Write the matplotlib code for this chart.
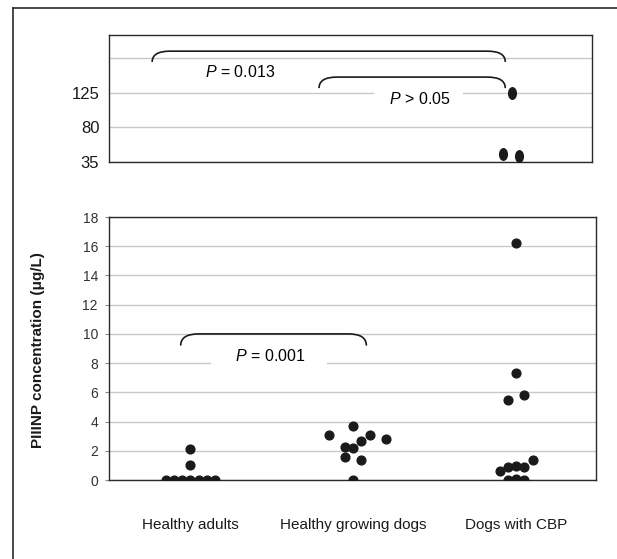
import matplotlib
matplotlib.use("Agg")
import matplotlib.pyplot as plt
import numpy as np
from matplotlib.lines import Line2D
from matplotlib.path import Path
from matplotlib.patches import PathPatch

plt.rcParams["font.family"] = ["Liberation Sans", "DejaVu Sans"]
plt.rcParams["mathtext.fontset"] = "custom"
plt.rcParams["mathtext.rm"] = "Liberation Sans"
plt.rcParams["mathtext.it"] = "Liberation Sans:italic"

# groups on the x axis
groups = ["Healthy adults", "Healthy growing dogs", "Dogs with CBP"]

# dot-plot values (ug/L) and their swarm column within each group
adult_vals = [0, 0, 0, 0, 0, 0, 0, 1.0, 2.15]
adult_cols = [-3, -2, -1, 0, 1, 2, 3, 0, 0]

growing_vals = [3.1, 3.7, 3.06, 2.7, 2.83, 2.28, 2.19, 1.55, 1.37, 0]
growing_cols = [-3, 0, 2, 1, 4, -1, 0, -1, 1, 0]

cbp_vals = [16.2, 7.3, 5.8, 5.48, 1.37, 0.64, 0.91, 0.95, 0.91, 0, 0.1, 0, 0]
cbp_cols = [0, 0, 1, -1, 2, -2, -1, 0, 1, -1, 0, 1, 0]

# CBP dogs above the axis break
cbp_high_vals = [125, 45.5, 43]
cbp_high_cols = [-0.1, -1.2, 0.8]

p_labels = ["$P$ = 0.013", "$P$ > 0.05", "$P$ = 0.001"]

COL_STEP = 0.05
DOT = dict(color="#1a1a1a", ls="none", zorder=4)
GRID = "#c8c8c8"
FRAME = "#2a2a2a"

# the upper panel's dots are drawn stretched vertically
circ = Path.unit_circle()
tall_dot = Path(circ.vertices * np.array([1.0, 1.5]), circ.codes)

fig = plt.figure(figsize=(6.17, 5.59), dpi=100)
ax_top = fig.add_axes([0.1767, 0.7102, 0.7828, 0.2272])
ax_bot = fig.add_axes([0.1767, 0.1413, 0.7893, 0.4705])

xlim = (-0.5, 2.49)


def bracket(ax, x0, x1, y_top, y_end, r):
    verts = [(x0, y_end), (x0, y_top), (x0 + r, y_top),
             (x1 - r, y_top), (x1, y_top), (x1, y_end)]
    codes = [Path.MOVETO, Path.CURVE3, Path.CURVE3,
             Path.LINETO, Path.CURVE3, Path.CURVE3]
    ax.add_patch(PathPatch(Path(verts, codes), fill=False, lw=1.2,
                           ec="#1a1a1a", zorder=3))


# ---- lower panel
for i, (vals, cols) in enumerate([(adult_vals, adult_cols),
                                  (growing_vals, growing_cols),
                                  (cbp_vals, cbp_cols)]):
    x = i + np.array(cols) * COL_STEP
    ax_bot.plot(x, vals, "o", ms=6.3, **DOT)

ax_bot.set_xlim(*xlim)
ax_bot.set_ylim(0, 18)
ax_bot.set_yticks(np.arange(0, 19, 2))
ax_bot.set_xticks(range(len(groups)))
ax_bot.set_xticklabels(groups, fontsize=11, color="#1a1a1a")
ax_bot.tick_params(axis="x", length=0, pad=27)
ax_bot.tick_params(axis="y", length=3, width=0.8, color="#888888",
                   labelsize=10, labelcolor="#333333", pad=5)
ax_bot.grid(axis="y", color=GRID, lw=1)
ax_bot.set_axisbelow(True)
for s in ax_bot.spines.values():
    s.set_color(FRAME)
    s.set_linewidth(1)

bracket(ax_bot, -0.06, 1.08, 10.0, 9.2, 0.11)
ax_bot.text(0.48, 8.5, "     " + p_labels[2] + "     ", ha="center",
            va="center", fontsize=11.5, zorder=3,
            bbox=dict(boxstyle="square,pad=0.15", fc="white", ec="none"))

# ---- upper panel
x_high = 2 + np.array(cbp_high_cols) * COL_STEP
ax_top.plot(x_high, cbp_high_vals, marker=tall_dot, ms=8.3, **DOT)

ax_top.set_xlim(*xlim)
ax_top.set_ylim(35, 200)
ax_top.set_yticks([35, 80, 125, 170])
ax_top.set_yticklabels(["35", "80", "125", ""])
ax_top.set_xticks([])
ax_top.tick_params(axis="y", length=0, labelsize=12,
                   labelcolor="#1a1a1a", pad=7)
ax_top.grid(axis="y", color=GRID, lw=1)
ax_top.set_axisbelow(True)
for s in ax_top.spines.values():
    s.set_color(FRAME)
    s.set_linewidth(1)

bracket(ax_top, -0.233, 1.953, 179, 165, 0.11)
bracket(ax_top, 0.8, 1.953, 145.3, 131, 0.11)
ax_top.text(0.314, 151.8, p_labels[0], ha="center", va="center",
            fontsize=11.5, zorder=3)
ax_top.text(1.413, 116.8, "   " + p_labels[1] + "   ", ha="center",
            va="center", fontsize=11.5, zorder=3,
            bbox=dict(boxstyle="square,pad=0.15", fc="white", ec="none"))

fig.text(0.062, 1 - 350 / 559, "PIIINP concentration (\u03bcg/L)",
         rotation=90, ha="center", va="center", fontsize=11,
         fontweight="bold", color="#1a1a1a")

# outer frame (top and left edges visible)
fig.add_artist(Line2D([13 / 617, 1.0], [1 - 8 / 559, 1 - 8 / 559],
                      transform=fig.transFigure, color=FRAME, lw=1.2))
fig.add_artist(Line2D([13 / 617, 13 / 617], [0.0, 1 - 8 / 559],
                      transform=fig.transFigure, color=FRAME, lw=1.2))

fig.savefig("out.png", dpi=100)
